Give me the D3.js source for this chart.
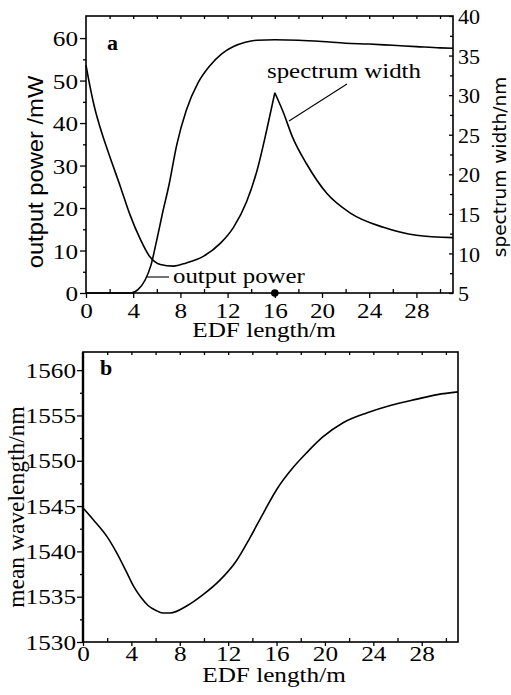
<!DOCTYPE html>
<html>
<head>
<meta charset="utf-8">
<script src="https://cdn.jsdelivr.net/npm/d3@7"></script>
<style>
  body { margin: 0; background: #fff; }
  svg { display: block; }
</style>
</head>
<body>
<div id="chart"></div>
<script>
// EDF length (m) and output power (mW), panel a, left axis
const powerLength = [0, 2, 3.8, 4.4, 5.0, 5.5, 6.0, 6.5, 7.0, 7.7, 8.5, 9.5, 10.5, 11.5, 12.5, 13.5, 14.5, 16, 18, 20, 22, 24, 26, 28, 30, 31.1];
const powerValues = [0, 0, 0, 0.8, 3, 6.5, 12.5, 19, 25, 35, 43, 49.5, 53.5, 56.3, 58, 59, 59.5, 59.6, 59.5, 59.2, 58.8, 58.6, 58.3, 58, 57.7, 57.6];

// spectrum width (nm), panel a, right axis - split at the cusp at 16 m
const widthLengthLeft = [0, 0.3, 0.7, 1.2, 2.0, 2.9, 3.7, 4.6, 5.4, 6.3, 7.4, 8.5, 9.9, 11.4, 12.5, 13.6, 14.5, 15.3, 16.0];
const widthValuesLeft = [33.8, 31.4, 28.6, 25.9, 22.3, 18.5, 15.0, 11.8, 9.6, 8.6, 8.4, 8.8, 9.6, 11.3, 13.3, 16.5, 20.5, 25.5, 30.3];
const widthLengthRight = [16.0, 16.7, 17.5, 18.7, 20.4, 22.4, 25.2, 28, 31.1];
const widthValuesRight = [30.3, 27.9, 24.7, 21.3, 17.6, 15.1, 13.3, 12.3, 12.0];

// mean wavelength (nm), panel b
const waveLength = [0, 0.85, 2.0, 2.8, 3.6, 4.2, 4.8, 5.4, 6.0, 6.6, 7.2, 8.6, 9.9, 11.3, 12.7, 13.8, 14.9, 16.0, 17.4, 18.5, 19.8, 21.5, 23.5, 25.4, 27.6, 29.3, 31];
const waveValues = [1544.8, 1543.5, 1541.6, 1539.8, 1537.7, 1536.1, 1534.9, 1534.0, 1533.5, 1533.2, 1533.2, 1534.0, 1535.2, 1536.8, 1539.0, 1541.5, 1544.2, 1546.8, 1549.3, 1550.9, 1552.6, 1554.2, 1555.3, 1556.1, 1556.8, 1557.3, 1557.6];

// tick values
const lengthTicks = [0, 4, 8, 12, 16, 20, 24, 28];
const powerTicks = [0, 10, 20, 30, 40, 50, 60];
const widthTicks = [5, 10, 15, 20, 25, 30, 35, 40];
const waveTicks = [1530, 1535, 1540, 1545, 1550, 1555, 1560];

const serif = "'Liberation Serif', 'Times New Roman', serif";
const stretchX = 1.2;

const svg = d3.select("#chart")
  .append("svg")
  .attr("width", 511)
  .attr("height", 695);

// horizontally stretch the tick labels like the scanned figure
function stretchTicks(g, sx, dx) {
  g.selectAll("text")
    .attr("font-family", serif)
    .attr("font-size", 21)
    .attr("fill", "#000")
    .attr("transform", `scale(${sx},1)`)
    .attr("x", dx / sx);
}

function styleAxis(g) {
  g.select(".domain").remove();
  g.selectAll(".tick line").attr("stroke", "#000").attr("stroke-width", 1.3);
}

function label(x, y, text, opts) {
  const o = Object.assign({ size: 21, sx: stretchX, anchor: "start", family: serif, weight: "normal", rotate: 0 }, opts);
  svg.append("text")
    .attr("transform", `translate(${x},${y}) rotate(${o.rotate}) scale(${o.sx},1)`)
    .attr("text-anchor", o.anchor)
    .attr("font-family", o.family)
    .attr("font-size", o.size)
    .attr("font-weight", o.weight)
    .attr("fill", "#000")
    .text(text);
}

// ---------- panel a ----------
const xA = d3.scaleLinear().domain([0, 31.1]).range([86, 453]);
const yPower = d3.scaleLinear().domain([0, 65.2]).range([293, 16]);
const yWidth = d3.scaleLinear().domain([5, 40]).range([293, 16]);

// minor ticks
svg.append("g").attr("transform", "translate(0,293)")
  .call(d3.axisBottom(xA).tickValues(d3.range(2, 31, 4)).tickSize(-4).tickFormat(""))
  .call(styleAxis);
svg.append("g").attr("transform", "translate(0,16)")
  .call(d3.axisTop(xA).tickValues(d3.range(2, 31, 2)).tickSize(-3).tickFormat(""))
  .call(styleAxis);
svg.append("g").attr("transform", "translate(86,0)")
  .call(d3.axisLeft(yPower).tickValues(d3.range(5, 65, 10)).tickSize(3).tickFormat(""))
  .call(styleAxis);
svg.append("g").attr("transform", "translate(453,0)")
  .call(d3.axisRight(yWidth).tickValues(d3.range(7.5, 40, 5)).tickSize(-3).tickFormat(""))
  .call(styleAxis);

// major ticks + labels
svg.append("g").attr("transform", "translate(0,293)")
  .call(d3.axisBottom(xA).tickValues(lengthTicks).tickSize(5).tickPadding(5).tickFormat(d3.format("d")))
  .call(styleAxis)
  .call((g) => stretchTicks(g, stretchX, 0));
svg.append("g").attr("transform", "translate(86,0)")
  .call(d3.axisLeft(yPower).tickValues(powerTicks).tickSize(6).tickPadding(2).tickFormat(d3.format("d")))
  .call(styleAxis)
  .call((g) => stretchTicks(g, stretchX, -8))
  .call((g) => g.selectAll("text").attr("dy", "0.36em"));
svg.append("g").attr("transform", "translate(453,0)")
  .call(d3.axisRight(yWidth).tickValues(widthTicks).tickSize(-4).tickPadding(9).tickFormat(d3.format("d")))
  .call(styleAxis)
  .call((g) => stretchTicks(g, 1.05, 5))
  .call((g) => g.selectAll("text").attr("dy", "0.36em"));

// frame
svg.append("rect")
  .attr("x", xA(0)).attr("y", yPower.range()[1])
  .attr("width", xA.range()[1] - xA.range()[0])
  .attr("height", yPower.range()[0] - yPower.range()[1])
  .attr("fill", "none").attr("stroke", "#000").attr("stroke-width", 1.6);

const powerLine = d3.line()
  .x((d, i) => xA(powerLength[i]))
  .y((d) => yPower(d))
  .curve(d3.curveMonotoneX);
svg.append("path")
  .attr("d", powerLine(powerValues))
  .attr("fill", "none").attr("stroke", "#000").attr("stroke-width", 1.6);

const widthLineLeft = d3.line()
  .x((d, i) => xA(widthLengthLeft[i]))
  .y((d) => yWidth(d))
  .curve(d3.curveMonotoneX);
const widthLineRight = d3.line()
  .x((d, i) => xA(widthLengthRight[i]))
  .y((d) => yWidth(d))
  .curve(d3.curveMonotoneX);
svg.append("path")
  .attr("d", widthLineLeft(widthValuesLeft))
  .attr("fill", "none").attr("stroke", "#000").attr("stroke-width", 1.6);
svg.append("path")
  .attr("d", widthLineRight(widthValuesRight))
  .attr("fill", "none").attr("stroke", "#000").attr("stroke-width", 1.6);

// marker on the x axis at 16 m
svg.append("circle")
  .attr("cx", xA(16)).attr("cy", yPower(0)).attr("r", 3.8)
  .attr("fill", "#000");

// annotations
label(267, 78, "spectrum width", { size: 22, sx: 1.13 });
svg.append("line")
  .attr("x1", 347).attr("y1", 84).attr("x2", 289).attr("y2", 121)
  .attr("stroke", "#000").attr("stroke-width", 1.1);
label(173, 283, "output power", { size: 22, sx: 1.13 });
svg.append("line")
  .attr("x1", 147).attr("y1", 277).attr("x2", 169).attr("y2", 277)
  .attr("stroke", "#000").attr("stroke-width", 1.1);
label(107, 50, "a", { size: 20, sx: 1.1, weight: "bold" });

// axis titles
label(264, 337, "EDF length/m", { anchor: "middle" });
label(43, 172, "output power /mW", { anchor: "middle", rotate: -90, sx: 1.08, size: 22, family: "'Liberation Sans', Arial, sans-serif" });
label(506, 167, "spectrum width/nm", { anchor: "middle", rotate: -90, sx: 1, size: 18.5, family: "'DejaVu Sans', sans-serif" });

// ---------- panel b ----------
const xB = d3.scaleLinear().domain([0, 31]).range([83, 458]);
const yWave = d3.scaleLinear().domain([1530, 1562]).range([642, 352]);

svg.append("g").attr("transform", "translate(0,642)")
  .call(d3.axisBottom(xB).tickValues(d3.range(2, 31, 4)).tickSize(-4).tickFormat(""))
  .call(styleAxis);
svg.append("g").attr("transform", "translate(0,352)")
  .call(d3.axisTop(xB).tickValues(d3.range(2, 31, 2)).tickSize(-3).tickFormat(""))
  .call(styleAxis);
svg.append("g").attr("transform", "translate(83,0)")
  .call(d3.axisLeft(yWave).tickValues(d3.range(1532.5, 1562, 5)).tickSize(3).tickFormat(""))
  .call(styleAxis);

svg.append("g").attr("transform", "translate(0,642)")
  .call(d3.axisBottom(xB).tickValues(lengthTicks).tickSize(4).tickPadding(0).tickFormat(d3.format("d")))
  .call(styleAxis)
  .call((g) => stretchTicks(g, stretchX, 0));
svg.append("g").attr("transform", "translate(83,0)")
  .call(d3.axisLeft(yWave).tickValues(waveTicks).tickSize(6).tickPadding(1).tickFormat(d3.format("d")))
  .call(styleAxis)
  .call((g) => stretchTicks(g, stretchX, -7))
  .call((g) => g.selectAll("text").attr("dy", "0.34em"));

svg.append("rect")
  .attr("x", xB(0)).attr("y", yWave.range()[1])
  .attr("width", xB.range()[1] - xB.range()[0])
  .attr("height", yWave.range()[0] - yWave.range()[1])
  .attr("fill", "none").attr("stroke", "#000").attr("stroke-width", 1.6);
// heavier left spine as in the scan
svg.append("line")
  .attr("x1", xB(0)).attr("x2", xB(0))
  .attr("y1", yWave.range()[1]).attr("y2", yWave.range()[0])
  .attr("stroke", "#000").attr("stroke-width", 2.4);

const waveLine = d3.line()
  .x((d, i) => xB(waveLength[i]))
  .y((d) => yWave(d))
  .curve(d3.curveMonotoneX);
svg.append("path")
  .attr("d", waveLine(waveValues))
  .attr("fill", "none").attr("stroke", "#000").attr("stroke-width", 1.6);

label(100, 375, "b", { size: 20, sx: 1.1, weight: "bold" });
label(274, 682, "EDF length/m", { anchor: "middle" });
label(24, 507, "mean wavelength/nm", { anchor: "middle", rotate: -90, sx: 1, size: 23.5 });
</script>
</body>
</html>
